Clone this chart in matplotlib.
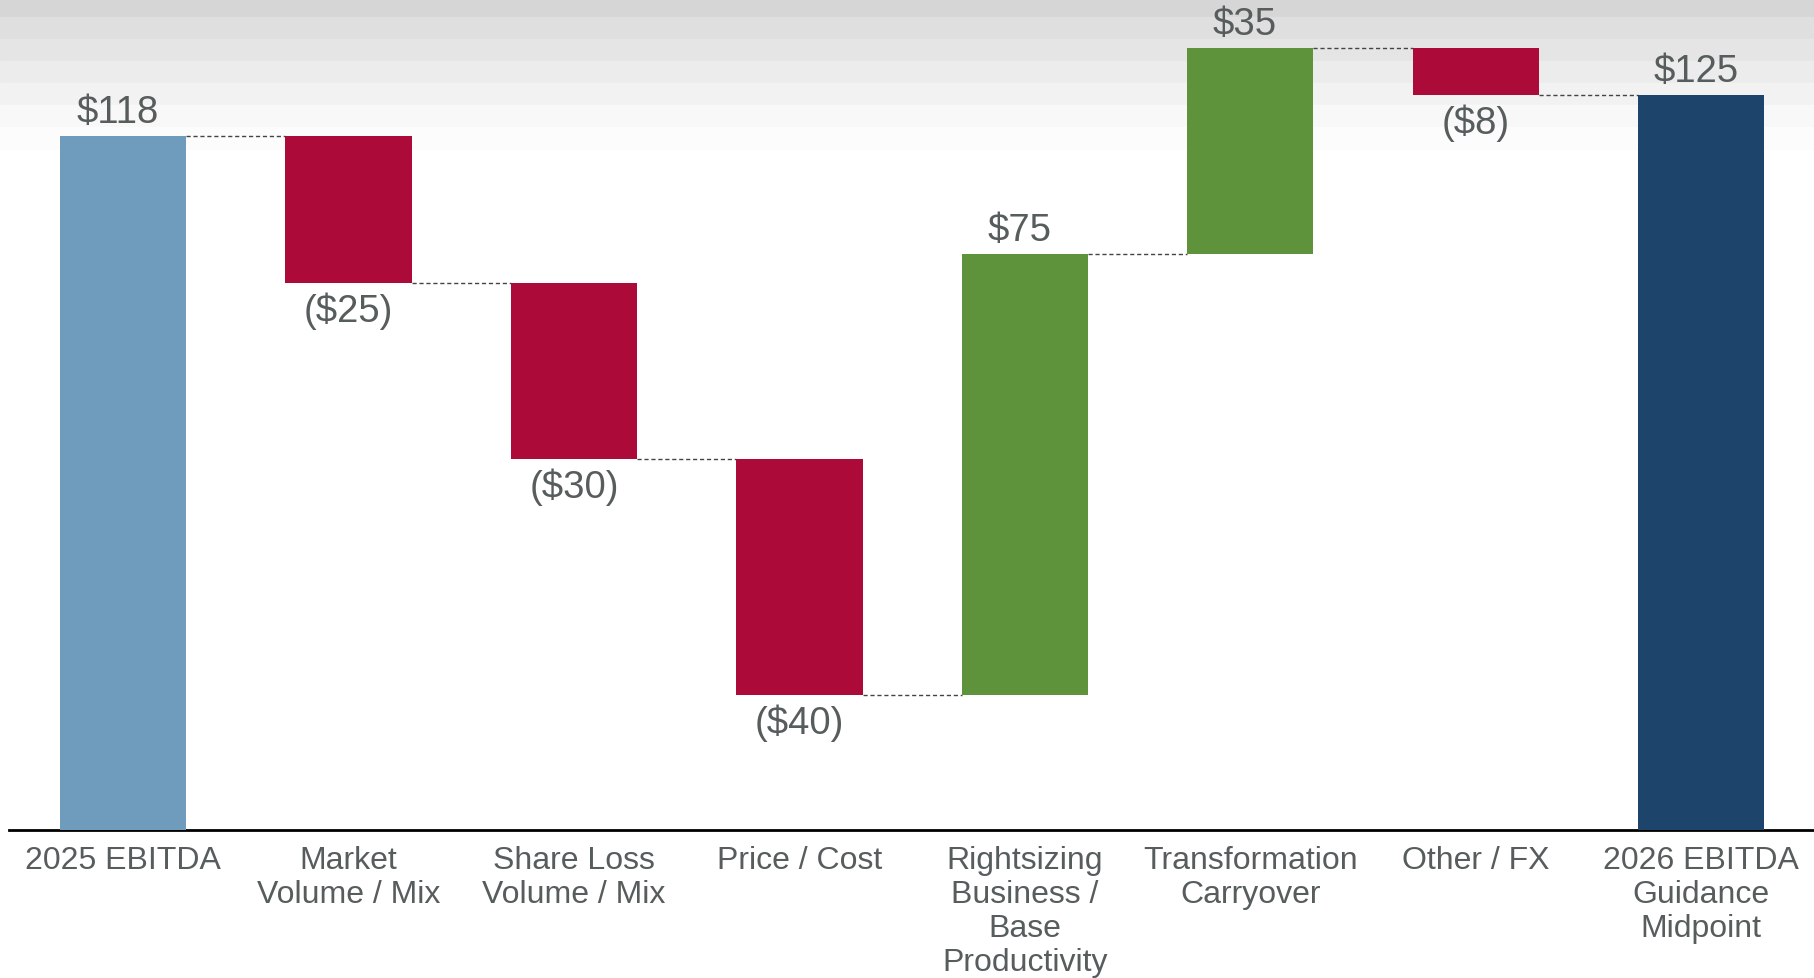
import matplotlib.pyplot as plt
from matplotlib.patches import Rectangle
import numpy as np

plt.rcParams['font.family'] = ['Liberation Sans', 'DejaVu Sans']

# EBITDA bridge, $M
categories = ['2025 EBITDA', 'Market\nVolume / Mix', 'Share Loss\nVolume / Mix',
              'Price / Cost', 'Rightsizing\nBusiness /\nBase\nProductivity',
              'Transformation\nCarryover', 'Other / FX',
              '2026 EBITDA\nGuidance\nMidpoint']
start_value = 118
deltas = [-25, -30, -40, 75, 35, -8]
end_value = 125

text_color = '#575c5c'
c_start = '#6f9bbd'
c_end = '#1d446b'
c_up = '#5e933b'
c_down = '#ac0a38'


def fmt(v):
    return f'${v}' if v >= 0 else f'(${-v})'


fig = plt.figure(figsize=(18.14, 9.79), dpi=100)

# banded grey fade along the top of the slide
band_greys = ['#d6d6d6', '#dfdfdf', '#e5e5e5', '#ececec', '#f2f2f2', '#f8f8f8', '#fcfcfc']
band_h = [18, 22, 22, 22, 22, 22, 22]
top = 979
for g, h in zip(band_greys, band_h):
    fig.patches.append(Rectangle((0, (top - h) / 979), 1, h / 979,
                                 transform=fig.transFigure, color=g, zorder=0))
    top -= h

ax = fig.add_axes([9 / 1814, 148 / 979, 1 - 9 / 1814, 831 / 979])
ax.set_zorder(2)
ax.patch.set_alpha(0)

# running totals for the floating bars
n = len(categories)
x = np.arange(n)
bottoms, heights, colors = [0], [start_value], [c_start]
level = start_value
levels = [level]
for d in deltas:
    new = level + d
    bottoms.append(min(level, new))
    heights.append(abs(d))
    colors.append(c_up if d > 0 else c_down)
    level = new
    levels.append(level)
bottoms.append(0)
heights.append(end_value)
colors.append(c_end)

w = 0.56
ax.bar(x, heights, bottom=bottoms, width=w, color=colors, zorder=3)

# dashed connectors between neighbouring bars
for i in range(n - 1):
    ax.plot([x[i] + w / 2, x[i + 1] - w / 2], [levels[i], levels[i]],
            ls=(0, (3, 2)), lw=1, color='#444444', zorder=2)

# value labels
vals = [start_value] + deltas + [end_value]
for i, v in enumerate(vals):
    if v >= 0:
        ax.annotate(fmt(v), (x[i], bottoms[i] + heights[i]), xytext=(-4, 4),
                    textcoords='offset points', ha='center', va='bottom',
                    fontsize=27.5, color=text_color)
    else:
        ax.annotate(fmt(v), (x[i], bottoms[i]), xytext=(0, -6),
                    textcoords='offset points', ha='center', va='top',
                    fontsize=27.5, color=text_color)

ax.set_xlim(-0.506, 7.5)
ax.set_ylim(0, 141.3)
ax.set_xticks(x)
ax.set_xticklabels(categories, fontsize=23, color=text_color, linespacing=1.17)
ax.tick_params(axis='x', length=0, pad=11)
ax.set_yticks([])
for s in ['top', 'right', 'left']:
    ax.spines[s].set_visible(False)
ax.spines['bottom'].set_linewidth(2)
ax.spines['bottom'].set_color('black')

fig.savefig('out.png', dpi=100)
